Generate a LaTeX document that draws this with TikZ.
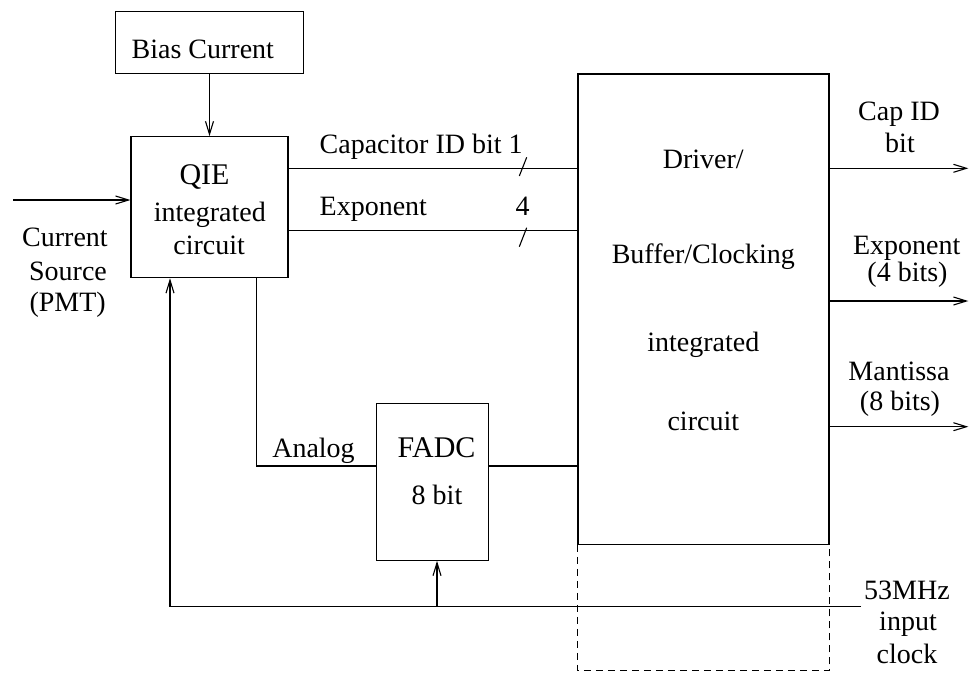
\documentclass[tikz,border=0pt]{standalone}
\usepackage{fontspec}
\setmainfont{Liberation Serif}
\usetikzlibrary{arrows.meta}
\begin{document}
\begin{tikzpicture}[x=1pt,y=-1pt,
  box/.style={draw,line width=1.1pt,rectangle,inner sep=0pt},
  txt/.style={anchor=base,inner sep=0pt,font=\fontsize{28}{32}\selectfont},
  big/.style={anchor=base,inner sep=0pt,font=\fontsize{30}{34}\selectfont},
  wire/.style={line width=1.1pt},
  arr/.style={wire,-{Straight Barb[length=13pt,width=8pt,line width=1.1pt]}},
  dashline/.style={line width=1pt,dash pattern=on 7pt off 5pt}
  ]
\useasboundingbox (0,0) rectangle (973,673);

% boxes
\node[box,minimum width=188.4pt,minimum height=62pt] (bias) at (209.5,42.7) {};
\node[box,minimum width=157pt,minimum height=141pt] (qie) at (209.5,207.2) {};
\node[box,minimum width=251pt,minimum height=470.3pt] (drv) at (703.5,309.15) {};
\node[box,minimum width=112.4pt,minimum height=157pt] (fadc) at (432.4,481.8) {};

% texts
\node[txt] (tbias) at (202.8,58.3) {Bias Current};
\node[big] (tqie) at (204.5,184.3) {QIE};
\node[txt] (tqie2) at (209.8,221.7) {integrated};
\node[txt] (tqie3) at (209.2,254) {circuit};
\node[txt] (tcur1) at (65,246.7) {Current};
\node[txt] (tcur2) at (68,280) {Source};
\node[txt] (tcur3) at (67.7,311.7) {(PMT)};
\node[txt,anchor=base west] (tcap) at (319.5,153.3) {Capacitor ID bit 1};
\node[txt,anchor=base west] (texp) at (319.5,215) {Exponent};
\node[txt] (tfour) at (522.5,215) {4};
\node[txt] (td1) at (703.3,168.3) {Driver/};
\node[txt] (td2) at (703.3,263.3) {Buffer/Clocking};
\node[txt] (td3) at (703.3,351.7) {integrated};
\node[txt] (td4) at (703.3,430.7) {circuit};
\node[txt] (to1) at (899,120.7) {Cap ID};
\node[txt] (to2) at (900,152.7) {bit};
\node[txt] (to3) at (906.7,254) {Exponent};
\node[txt] (to4) at (907.5,281) {(4 bits)};
\node[txt] (to5) at (899,380) {Mantissa};
\node[txt] (to6) at (900,410) {(8 bits)};
\node[big] (tfadc) at (436.6,457.3) {FADC};
\node[txt] (tfadc2) at (437,504) {8 bit};
\node[txt] (tan) at (313.5,457.3) {Analog};
\node[txt] (tclk1) at (907,599) {53MHz};
\node[txt] (tclk2) at (908,630.7) {input};
\node[txt] (tclk3) at (907,663) {clock};

% helper coordinates
\coordinate (src) at (13,200);
\coordinate (l1) at (0,168.3);
\coordinate (l2) at (0,230.7);
\coordinate (o1) at (968.3,168.3);
\coordinate (o2) at (968.3,301);
\coordinate (o3) at (968.3,426.7);
\coordinate (an) at (256.6,466);
\coordinate (clk) at (861,606.7);
\coordinate (clkL) at (170,606.7);
\coordinate (fa) at (437,606.7);

% dashed extension
\draw[dashline] (drv.south west) -- ++(0,125.7) -| (drv.south east);

% connectors
\draw[arr] (bias.south) -- (qie.north);
\draw[arr] (src) -- (src -| qie.west);
\draw[wire] (qie.east |- l1) -- (drv.west |- l1);
\draw[wire] (qie.east |- l2) -- (drv.west |- l2);
\draw[wire] (526.7,157.3) -- (519.3,176);
\draw[wire] (526.7,227.7) -- (519.3,246.7);
\draw[arr] (drv.east |- o1) -- (o1);
\draw[arr] (drv.east |- o2) -- (o2);
\draw[arr] (drv.east |- o3) -- (o3);
\draw[wire] (qie.south -| an) -- (an) -- (an -| fadc.west);
\draw[wire] (fadc.east |- an) -- (drv.west |- an);
\draw[arr] (clk) -- (clkL) -- (clkL |- qie.south);
\draw[arr] (fa) -- (fa |- fadc.south);
\end{tikzpicture}
\end{document}
